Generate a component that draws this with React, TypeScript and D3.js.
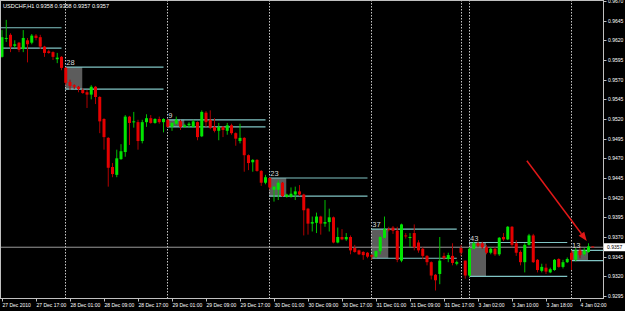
import React from 'react';
import * as d3 from 'd3';

// ---- DATA (USDCHF H1, 27 Dec 2010 09:00 -> 4 Jan 2011 04:00) ----
const opens = [
  0.9599, 0.9622, 0.9627, 0.9613, 0.9617, 0.9609, 0.9620, 0.9617, 0.9626, 0.9624,
  0.9612, 0.9606, 0.9605, 0.9596, 0.9599, 0.9585, 0.9567, 0.9563, 0.9561, 0.9557,
  0.9554, 0.9551, 0.9561, 0.9548, 0.9520, 0.9496, 0.9459, 0.9449, 0.9469, 0.9478,
  0.9523, 0.9516, 0.9516, 0.9492, 0.9516, 0.9521, 0.9515, 0.9520, 0.9516, 0.9519,
  0.9510, 0.9514, 0.9517, 0.9510, 0.9512, 0.9510, 0.9516, 0.9498, 0.9528, 0.9519,
  0.9510, 0.9505, 0.9510, 0.9505, 0.9512, 0.9502, 0.9492, 0.9496, 0.9474, 0.9465,
  0.9468, 0.9454, 0.9439, 0.9445, 0.9430, 0.9430, 0.9439, 0.9421, 0.9421, 0.9424,
  0.9428, 0.9424, 0.9406, 0.9387, 0.9388, 0.9396, 0.9387, 0.9389, 0.9395, 0.9363,
  0.9370, 0.9367, 0.9370, 0.9356, 0.9353, 0.9351, 0.9350, 0.9347, 0.9345, 0.9352,
  0.9369, 0.9380, 0.9382, 0.9378, 0.9340, 0.9372, 0.9369, 0.9375, 0.9363, 0.9355,
  0.9346, 0.9338, 0.9322, 0.9323, 0.9346, 0.9342, 0.9346, 0.9336, 0.9356, 0.9340,
  0.9321, 0.9355, 0.9362, 0.9362, 0.9357, 0.9350, 0.9355, 0.9348, 0.9370, 0.9367,
  0.9383, 0.9362, 0.9351, 0.9338, 0.9360, 0.9372, 0.9341, 0.9327, 0.9331, 0.9325,
  0.9328, 0.9342, 0.9332, 0.9338, 0.9350, 0.9341, 0.9353, 0.9348, 0.9351, 0.9358,
];
const highs = [
  0.9633, 0.9646, 0.9629, 0.9620, 0.9618, 0.9633, 0.9623, 0.9628, 0.9628, 0.9627,
  0.9613, 0.9608, 0.9606, 0.9604, 0.9600, 0.9586, 0.9570, 0.9564, 0.9562, 0.9559,
  0.9557, 0.9563, 0.9562, 0.9549, 0.9521, 0.9497, 0.9464, 0.9481, 0.9488, 0.9525,
  0.9524, 0.9529, 0.9519, 0.9519, 0.9526, 0.9525, 0.9521, 0.9523, 0.9521, 0.9520,
  0.9516, 0.9523, 0.9519, 0.9514, 0.9516, 0.9519, 0.9517, 0.9531, 0.9530, 0.9531,
  0.9521, 0.9515, 0.9511, 0.9515, 0.9514, 0.9503, 0.9514, 0.9497, 0.9475, 0.9469,
  0.9469, 0.9455, 0.9449, 0.9446, 0.9435, 0.9442, 0.9440, 0.9425, 0.9433, 0.9434,
  0.9436, 0.9425, 0.9407, 0.9396, 0.9401, 0.9397, 0.9417, 0.9406, 0.9396, 0.9382,
  0.9380, 0.9375, 0.9372, 0.9360, 0.9354, 0.9352, 0.9351, 0.9348, 0.9353, 0.9372,
  0.9396, 0.9383, 0.9384, 0.9383, 0.9387, 0.9375, 0.9375, 0.9386, 0.9366, 0.9357,
  0.9347, 0.9339, 0.9323, 0.9370, 0.9350, 0.9350, 0.9362, 0.9340, 0.9360, 0.9340,
  0.9357, 0.9364, 0.9364, 0.9364, 0.9360, 0.9357, 0.9357, 0.9370, 0.9375, 0.9384,
  0.9384, 0.9366, 0.9353, 0.9362, 0.9374, 0.9374, 0.9342, 0.9336, 0.9336, 0.9331,
  0.9342, 0.9343, 0.9341, 0.9344, 0.9353, 0.9356, 0.9356, 0.9356, 0.9362, 0.9358,
];
const lows = [
  0.9598, 0.9618, 0.9605, 0.9610, 0.9605, 0.9605, 0.9592, 0.9615, 0.9620, 0.9609,
  0.9599, 0.9603, 0.9595, 0.9591, 0.9582, 0.9563, 0.9557, 0.9558, 0.9554, 0.9552,
  0.9534, 0.9545, 0.9539, 0.9502, 0.9481, 0.9434, 0.9446, 0.9446, 0.9468, 0.9472,
  0.9487, 0.9509, 0.9481, 0.9489, 0.9510, 0.9514, 0.9514, 0.9514, 0.9503, 0.9509,
  0.9505, 0.9512, 0.9506, 0.9509, 0.9509, 0.9509, 0.9493, 0.9497, 0.9510, 0.9507,
  0.9503, 0.9493, 0.9497, 0.9500, 0.9500, 0.9486, 0.9489, 0.9453, 0.9455, 0.9453,
  0.9453, 0.9435, 0.9437, 0.9430, 0.9415, 0.9417, 0.9421, 0.9420, 0.9420, 0.9417,
  0.9422, 0.9372, 0.9373, 0.9377, 0.9375, 0.9373, 0.9383, 0.9377, 0.9362, 0.9362,
  0.9366, 0.9365, 0.9348, 0.9350, 0.9347, 0.9341, 0.9343, 0.9341, 0.9343, 0.9348,
  0.9368, 0.9377, 0.9374, 0.9338, 0.9338, 0.9368, 0.9357, 0.9353, 0.9350, 0.9342,
  0.9334, 0.9316, 0.9302, 0.9310, 0.9341, 0.9338, 0.9334, 0.9334, 0.9346, 0.9317,
  0.9319, 0.9354, 0.9357, 0.9355, 0.9348, 0.9348, 0.9346, 0.9346, 0.9365, 0.9366,
  0.9357, 0.9346, 0.9334, 0.9325, 0.9359, 0.9337, 0.9325, 0.9325, 0.9323, 0.9324,
  0.9327, 0.9331, 0.9330, 0.9337, 0.9328, 0.9339, 0.9343, 0.9346, 0.9350, 0.9357,
];
const closes = [
  0.9624, 0.9623, 0.9612, 0.9615, 0.9608, 0.9623, 0.9615, 0.9626, 0.9623, 0.9612,
  0.9604, 0.9604, 0.9599, 0.9598, 0.9585, 0.9566, 0.9562, 0.9561, 0.9558, 0.9553,
  0.9551, 0.9561, 0.9548, 0.9517, 0.9497, 0.9458, 0.9450, 0.9470, 0.9479, 0.9523,
  0.9515, 0.9517, 0.9492, 0.9516, 0.9521, 0.9515, 0.9520, 0.9516, 0.9520, 0.9510,
  0.9515, 0.9519, 0.9510, 0.9512, 0.9514, 0.9517, 0.9497, 0.9529, 0.9516, 0.9509,
  0.9505, 0.9510, 0.9506, 0.9512, 0.9502, 0.9495, 0.9496, 0.9474, 0.9464, 0.9468,
  0.9454, 0.9439, 0.9446, 0.9433, 0.9434, 0.9439, 0.9422, 0.9424, 0.9425, 0.9428,
  0.9424, 0.9404, 0.9387, 0.9389, 0.9396, 0.9387, 0.9389, 0.9395, 0.9363, 0.9370,
  0.9367, 0.9370, 0.9353, 0.9351, 0.9348, 0.9347, 0.9345, 0.9345, 0.9352, 0.9370,
  0.9380, 0.9379, 0.9378, 0.9341, 0.9386, 0.9371, 0.9370, 0.9357, 0.9353, 0.9346,
  0.9338, 0.9321, 0.9315, 0.9340, 0.9343, 0.9347, 0.9337, 0.9338, 0.9350, 0.9321,
  0.9355, 0.9362, 0.9359, 0.9357, 0.9350, 0.9355, 0.9348, 0.9369, 0.9367, 0.9383,
  0.9360, 0.9350, 0.9338, 0.9360, 0.9372, 0.9338, 0.9328, 0.9332, 0.9326, 0.9329,
  0.9341, 0.9332, 0.9338, 0.9342, 0.9341, 0.9353, 0.9347, 0.9353, 0.9358, 0.9357,
];

// day separators (bar index of first bar of each day)
const separatorBars = [15, 39, 63, 87, 108, 110, 134];

// opening range boxes: start bar, last bar of lines, top, bottom, label
const boxStart = [-9, 15, 39, 63, 87, 110, 134];
const boxEnd = [14, 38, 62, 86, 107, 133, 160];
const boxTop = [0.9636, 0.9586, 0.9519, 0.9445, 0.9380, 0.9363, 0.9353];
const boxBottom = [0.9610, 0.9558, 0.9510, 0.9422, 0.9343, 0.9320, 0.9340];
const boxLabel = ['26', '28', '9', '23', '37', '43', '13'];

const priceTicks = [
  0.9670, 0.9645, 0.9620, 0.9595, 0.9570, 0.9545, 0.9520, 0.9495,
  0.9470, 0.9445, 0.9420, 0.9395, 0.9370, 0.9345, 0.9320, 0.9295,
];
const timeTickBars = [0, 8, 16, 24, 32, 40, 48, 56, 64, 72, 80, 88, 96, 104, 112, 120, 128, 136];
const timeTickLabels = [
  '27 Dec 2010', '27 Dec 17:00', '28 Dec 01:00', '28 Dec 09:00', '28 Dec 17:00',
  '29 Dec 01:00', '29 Dec 09:00', '29 Dec 17:00', '30 Dec 01:00', '30 Dec 09:00',
  '30 Dec 17:00', '31 Dec 01:00', '31 Dec 09:00', '31 Dec 17:00', '3 Jan 02:00',
  '3 Jan 10:00', '3 Jan 18:00', '4 Jan 02:00',
];

const symbolTitle = 'USDCHF,H1';
const lastBid = 0.9357;
// annotation arrow (bar index, price)
const arrowFrom = [123.5, 0.9467];
const arrowTo = [137.6, 0.9365];

const W = 625;
const H = 311;
const PLOT_R = 603;
const PLOT_B = 298;

export default function App() {
  const x = d3.scaleLinear().domain([0, 139]).range([2, 2 + 139 * 4.25]);
  const y = d3.scaleLinear().domain([0.9295, 0.967]).range([296, 1]);
  const fmt = d3.format('.4f');
  const bull = '#00e600';
  const bear = '#e60000';
  const font = 'Liberation Sans, Arial, sans-serif';

  const ax0 = x(arrowFrom[0]);
  const ay0 = y(arrowFrom[1]);
  const ax1 = x(arrowTo[0]);
  const ay1 = y(arrowTo[1]);
  const ang = Math.atan2(ay1 - ay0, ax1 - ax0);
  const hl = 9;
  const hw = 3.5;
  const bx = ax1 - hl * Math.cos(ang);
  const by = ay1 - hl * Math.sin(ang);
  const head = [
    [ax1, ay1],
    [bx + hw * Math.sin(ang), by - hw * Math.cos(ang)],
    [bx - hw * Math.sin(ang), by + hw * Math.cos(ang)],
  ];

  return (
    <svg
      width={W}
      height={H}
      style={{ position: 'absolute', left: 0, top: 0, display: 'block' }}
    >
      <rect x={0} y={0} width={W} height={H} fill="#000" />
      <defs>
        <clipPath id="plot">
          <rect x={0} y={0} width={PLOT_R} height={PLOT_B} />
        </clipPath>
      </defs>
      <g clipPath="url(#plot)">
        {/* range boxes */}
        {boxStart.map((s, k) => (
          <rect
            key={'b' + k}
            x={x(s) - 0.5}
            y={y(boxTop[k])}
            width={x(s + 4) - x(s)}
            height={y(boxBottom[k]) - y(boxTop[k])}
            fill="#5c5c5c"
          />
        ))}
        {/* separators */}
        {separatorBars.map((b, k) => (
          <line
            key={'s' + k}
            x1={Math.round(x(b) - 0.5) + 0.5}
            x2={Math.round(x(b) - 0.5) + 0.5}
            y1={0}
            y2={PLOT_B}
            stroke="#c8c8c8"
            strokeWidth={1}
            strokeDasharray="1.5,1.5"
          />
        ))}
        {/* current price line */}
        <line x1={0} x2={PLOT_R} y1={y(lastBid)} y2={y(lastBid)} stroke="#9a9a9a" strokeWidth={1} />
        {/* range lines */}
        {boxStart.map((s, k) => (
          <g key={'l' + k}>
            <line x1={Math.max(0, x(s) - 0.5)} x2={x(boxEnd[k])} y1={y(boxTop[k])} y2={y(boxTop[k])} stroke="#80c4c4" strokeWidth={1.2} />
            <line x1={Math.max(0, x(s) - 0.5)} x2={x(boxEnd[k])} y1={y(boxBottom[k])} y2={y(boxBottom[k])} stroke="#80c4c4" strokeWidth={1.2} />
          </g>
        ))}
        {/* candles */}
        {closes.map((c, i) => {
          const o = opens[i];
          const up = c >= o;
          const col = up ? bull : bear;
          const cx = x(i);
          const top = y(Math.max(o, c));
          const bot = y(Math.min(o, c));
          return (
            <g key={'c' + i}>
              <line x1={cx} x2={cx} y1={y(highs[i])} y2={y(lows[i])} stroke={up ? '#00c000' : '#b00000'} strokeWidth={1} />
              <rect x={cx - 1.5} y={top} width={3} height={Math.max(1, bot - top)} fill={col} />
            </g>
          );
        })}
        {/* box labels */}
        {boxStart.map((s, k) =>
          s >= 0 ? (
            <text key={'t' + k} x={x(s) + 0.5} y={y(boxTop[k]) - 2} fill="#d8d8d8" fontSize={7.5} fontFamily={font}>
              {boxLabel[k]}
            </text>
          ) : null
        )}
        {/* arrow */}
        <line x1={ax0} y1={ay0} x2={bx} y2={by} stroke="#e01818" strokeWidth={1.5} />
        <polygon points={head.map((p) => p.join(',')).join(' ')} fill="#e01818" />
      </g>

      {/* frame */}
      <rect x={0.5} y={0.5} width={PLOT_R} height={PLOT_B} fill="none" stroke="#c0c0c0" strokeWidth={1} />

      {/* title */}
      <text x={3} y={8} fill="#fff" fontSize={5.6} fontFamily={font}>
        {symbolTitle + ' ' + [opens[139], highs[139], lows[139], closes[139]].map(fmt).join(' ')}
      </text>

      {/* price axis */}
      {priceTicks.map((p, k) => (
        <g key={'p' + k}>
          <line x1={PLOT_R + 0.5} x2={PLOT_R + 3.5} y1={Math.round(y(p)) + 0.5} y2={Math.round(y(p)) + 0.5} stroke="#c0c0c0" />
          <text x={PLOT_R + 5} y={y(p) + 2} fill="#fff" fontSize={5} fontFamily={font}>
            {fmt(p)}
          </text>
        </g>
      ))}
      <rect x={PLOT_R + 1} y={y(lastBid) - 4} width={21} height={8} fill="#fff" />
      <text x={PLOT_R + 4} y={y(lastBid) + 2} fill="#000" fontSize={5} fontFamily={font}>
        {fmt(lastBid)}
      </text>

      {/* time axis */}
      {timeTickBars.map((b, k) => (
        <g key={'x' + k}>
          <line x1={Math.round(x(b)) + 0.5} x2={Math.round(x(b)) + 0.5} y1={PLOT_B + 0.5} y2={PLOT_B + 3.5} stroke="#c0c0c0" />
          <text x={x(b) + 0.5} y={PLOT_B + 9} fill="#fff" fontSize={5} fontFamily={font}>
            {timeTickLabels[k]}
          </text>
        </g>
      ))}
    </svg>
  );
}
